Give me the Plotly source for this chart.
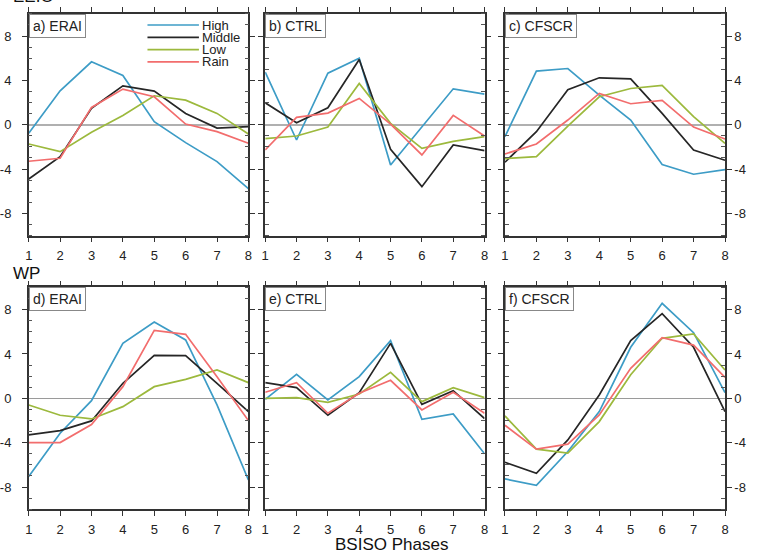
import plotly.graph_objects as go

W, H = 758, 553

phases = [1, 2, 3, 4, 5, 6, 7, 8]
x_ticks = [1, 2, 3, 4, 5, 6, 7, 8]
y_ticks = [-8, -4, 0, 4, 8]
y_tick_text = ["-8", "-4", "0", "4", "8"]
y_minor_ticks = [v for v in range(-10, 11) if v % 4 != 0]
series_names = ["High", "Middle", "Low", "Rain"]
series_colors = ["#3d9cc6", "#262626", "#9cb93d", "#f26d6d"]
panel_titles = ["a) ERAI", "b) CTRL", "c) CFSCR", "d) ERAI", "e) CTRL", "f) CFSCR"]
region_labels = ["EEIO", "WP"]
x_title = "BSISO Phases"

# ---- EEIO (top row) ----
a_high = [-0.78, 3.06, 5.68, 4.44, 0.27, -1.62, -3.33, -5.77]
a_middle = [-4.9, -2.88, 1.47, 3.51, 3.03, 1.02, -0.3, -0.18]
a_low = [-1.74, -2.43, -0.69, 0.84, 2.61, 2.22, 1.02, -0.84]
a_rain = [-3.3, -3.03, 1.56, 3.21, 2.52, 0.06, -0.63, -1.68]

b_high = [4.74, -1.38, 4.65, 6.0, -3.63, -0.18, 3.24, 2.76]
b_middle = [1.98, 0.18, 1.53, 5.89, -2.22, -5.59, -1.83, -2.34]
b_low = [-1.26, -1.02, -0.21, 3.72, 0.12, -2.13, -1.5, -1.08]
b_rain = [-2.28, 0.66, 1.05, 2.37, 0.06, -2.73, 0.84, -1.02]

c_high = [-1.08, 4.83, 5.07, 2.67, 0.42, -3.6, -4.47, -4.05]
c_middle = [-3.39, -0.63, 3.15, 4.23, 4.14, 1.02, -2.28, -3.21]
c_low = [-3.06, -2.88, -0.12, 2.52, 3.27, 3.54, 0.72, -1.68]
c_rain = [-2.64, -1.74, 0.42, 2.82, 1.89, 2.19, -0.21, -1.29]

# ---- WP (bottom row) ----
d_high = [-7.06, -3.15, -0.21, 4.95, 6.88, 5.26, -0.6, -7.36]
d_middle = [-3.3, -2.91, -2.04, 1.35, 3.87, 3.84, 1.35, -1.2]
d_low = [-0.6, -1.53, -1.86, -0.75, 1.05, 1.71, 2.55, 1.41]
d_rain = [-3.99, -3.99, -2.37, 1.05, 6.13, 5.77, 1.95, -2.01]

e_high = [-0.09, 2.16, -0.15, 1.95, 5.2, -1.89, -1.41, -5.0]
e_middle = [1.41, 0.96, -1.53, 0.51, 4.95, -0.54, 0.69, -1.83]
e_low = [0.0, 0.06, -0.36, 0.39, 2.34, -0.3, 0.96, 0.06]
e_rain = [0.54, 1.41, -1.35, 0.45, 1.62, -1.05, 0.54, -1.35]

f_high = [-7.27, -7.84, -4.8, -1.2, 4.6, 8.56, 5.92, 0.51]
f_middle = [-5.77, -6.76, -3.75, 0.3, 5.2, 7.63, 4.6, -1.2]
f_low = [-1.59, -4.59, -4.95, -2.1, 2.13, 5.41, 5.8, 2.55]
f_rain = [-2.43, -4.59, -4.14, -1.5, 2.7, 5.47, 4.8, 1.89]

panels = [
    [a_high, a_middle, a_low, a_rain],
    [b_high, b_middle, b_low, b_rain],
    [c_high, c_middle, c_low, c_rain],
    [d_high, d_middle, d_low, d_rain],
    [e_high, e_middle, e_low, e_rain],
    [f_high, f_middle, f_low, f_rain],
]

FONT = "Liberation Sans, Arial, Helvetica, sans-serif"


def px_x(p):
    return p / W


def px_y(p):
    return 1 - p / H


col_px = [(25, 247), (264, 485.7), (506.3, 728.7)]
row_px = [(13.9, 235.5), (287.4, 509.2)]

fig = go.Figure()
layout = {}
annotations = []

for i, series in enumerate(panels):
    r, c = divmod(i, 3)
    k = i + 1
    xa = "x" if k == 1 else f"x{k}"
    ya = "y" if k == 1 else f"y{k}"
    for name, color, vals in zip(series_names, series_colors, series):
        fig.add_trace(go.Scatter(
            x=phases, y=vals, mode="lines", name=name,
            line=dict(color=color, width=1.7),
            xaxis=xa, yaxis=ya, showlegend=False,
        ))
    xd = [px_x(col_px[c][0]), px_x(col_px[c][1])]
    yd = [px_y(row_px[r][1]), px_y(row_px[r][0])]
    xkey = "xaxis" if k == 1 else f"xaxis{k}"
    ykey = "yaxis" if k == 1 else f"yaxis{k}"
    layout[xkey] = dict(
        domain=xd, anchor=ya, range=[1, 8], tickvals=x_ticks,
        ticks="outside", ticklen=5, tickwidth=1.2, tickcolor="#333",
        showline=True, linecolor="#333", linewidth=1.5, mirror="ticks",
        showgrid=False, zeroline=False,
        tickfont=dict(family=FONT, size=13, color="#222"),
        ticklabelstandoff=2,
    )
    ydict = dict(
        domain=yd, anchor=xa, range=[-10, 10], tickvals=y_ticks, ticktext=y_tick_text,
        ticks="outside", ticklen=5, tickwidth=1.2, tickcolor="#333",
        minor=dict(ticks="inside", tickmode="array", tickvals=y_minor_ticks,
                   ticklen=4, tickwidth=1, tickcolor="#555", showgrid=False),
        showline=True, linecolor="#333", linewidth=1.5, mirror="ticks",
        showgrid=False, zeroline=True,
        zerolinecolor="#b0b0b0" if r == 0 else "#9a9a9a",
        zerolinewidth=2.2 if r == 0 else 1.2,
        tickfont=dict(family=FONT, size=13, color="#222"),
    )
    if c == 0:
        ydict.update(side="left", ticklabelstandoff=8)
    elif c == 1:
        ydict.update(showticklabels=False)
    else:
        ydict.update(side="right", ticklabelstandoff=0)
    layout[ykey] = ydict

    annotations.append(dict(
        text=panel_titles[i], xref="paper", yref="paper",
        x=xd[0], y=yd[1], xanchor="left", yanchor="top", showarrow=False,
        font=dict(family=FONT, size=14, color="#222"),
        bgcolor="white", bordercolor="#888", borderwidth=1, borderpad=3,
    ))

# region labels
annotations.append(dict(text=region_labels[0], xref="paper", yref="paper",
                        x=px_x(7), y=px_y(8), xanchor="left", yanchor="bottom",
                        showarrow=False, font=dict(family=FONT, size=17, color="#111")))
annotations.append(dict(text=region_labels[1], xref="paper", yref="paper",
                        x=px_x(7), y=px_y(273), xanchor="left", yanchor="middle",
                        showarrow=False, font=dict(family=FONT, size=17, color="#111")))
annotations.append(dict(text=x_title, xref="paper", yref="paper",
                        x=px_x(392), y=px_y(544), xanchor="center", yanchor="middle",
                        showarrow=False, font=dict(family=FONT, size=17, color="#111")))

# legend (in panel a)
shapes = []
leg_rows = [25, 37.3, 49.6, 61.9]
for name, color, yy in zip(series_names, series_colors, leg_rows):
    shapes.append(dict(type="line", xref="paper", yref="paper",
                       x0=px_x(145), x1=px_x(197), y0=px_y(yy), y1=px_y(yy),
                       line=dict(color=color, width=1.7)))
    annotations.append(dict(text=name, xref="paper", yref="paper",
                            x=px_x(199), y=px_y(yy), xanchor="left", yanchor="middle",
                            borderpad=0,
                            showarrow=False, font=dict(family=FONT, size=13, color="#222")))

fig.update_layout(
    width=W, height=H, margin=dict(l=0, r=0, t=0, b=0),
    paper_bgcolor="white", plot_bgcolor="white",
    showlegend=False, annotations=annotations, shapes=shapes,
    **layout,
)

fig.write_html("out.html")
